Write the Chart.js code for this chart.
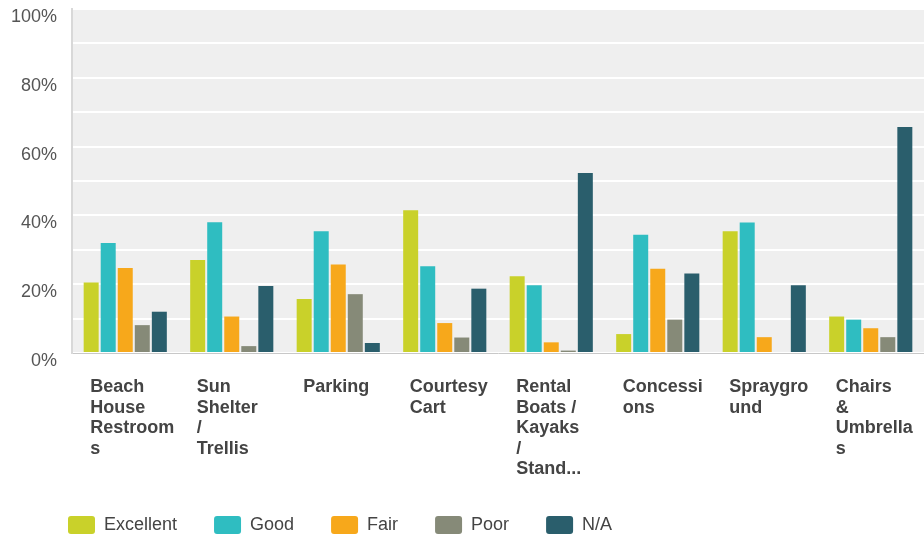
<!DOCTYPE html>
<html>
<head>
<meta charset="utf-8">
<script src="https://cdn.jsdelivr.net/npm/chart.js@4"></script>
<style>
  html, body { margin: 0; padding: 0; background: #ffffff; }
  #c { display: block; }
</style>
</head>
<body>
<canvas id="c" width="924" height="535"></canvas>
<script>
// ---- Data ----
const categories = [
  ["Beach", "House", "Restroom", "s"],
  ["Sun", "Shelter", "/", "Trellis"],
  ["Parking"],
  ["Courtesy", "Cart"],
  ["Rental", "Boats /", "Kayaks", "/", "Stand..."],
  ["Concessi", "ons"],
  ["Spraygro", "und"],
  ["Chairs", "&", "Umbrella", "s"]
];
const seriesNames = ["Excellent", "Good", "Fair", "Poor", "N/A"];
const excellent = [20.5, 27.0, 15.7, 41.5, 22.3, 5.5, 35.4, 10.6];
const good      = [32.0, 38.0, 35.4, 25.2, 19.7, 34.4, 37.9, 9.7];
const fair      = [24.7, 10.6, 25.7, 8.7, 3.1, 24.5, 4.6, 7.2];
const poor      = [8.1, 2.0, 17.1, 4.5, 0.7, 9.7, 0.0, 4.6];
const na        = [12.0, 19.5, 2.9, 18.7, 52.3, 23.1, 19.7, 65.7];
const yTickValues = [0, 20, 40, 60, 80, 100];

const seriesValues = [excellent, good, fair, poor, na];
const seriesColors = ["#c9d12a", "#2fbdc1", "#f7a81b", "#868a78", "#2a5e6c"];
const FONT = "Arial, 'Liberation Sans', sans-serif";

const plotBg = {
  id: 'plotBg',
  beforeDraw(chart) {
    const {ctx, chartArea: a} = chart;
    ctx.save();
    ctx.fillStyle = '#efefef';
    ctx.fillRect(a.left, a.top, a.right - a.left, a.bottom - a.top);
    ctx.restore();
  }
};
const legendPlace = {
  id: 'legendPlace',
  afterLayout(chart) {
    const lg = chart.legend;
    if (!lg) return;
    const pad = lg.options.labels.padding;
    const w = lg.right - lg.left;
    lg.left = 68 - pad; lg.right = lg.left + w;
    const h = lg.bottom - lg.top;
    lg.top = 516 - pad; lg.bottom = lg.top + h;
  }
};

new Chart(document.getElementById('c'), {
  type: 'bar',
  data: {
    labels: categories,
    datasets: seriesNames.map((n, i) => ({
      label: n,
      data: seriesValues[i],
      backgroundColor: seriesColors[i],
      borderWidth: 0,
      categoryPercentage: 0.8,
      barPercentage: 0.88
    }))
  },
  options: {
    responsive: false,
    animation: false,
    layout: { padding: { top: 9, right: -8, left: 0, bottom: -15 } },
    plugins: {
      tooltip: { enabled: false },
      legend: {
        position: 'bottom',
        align: 'start',
        labels: {
          boxWidth: 27, boxHeight: 18, padding: 37,
          useBorderRadius: true, borderRadius: 3,
          color: '#444', font: { family: FONT, size: 18 }
        }
      }
    },
    scales: {
      x: {
        grid: { display: false, drawTicks: false },
        border: { display: true, color: '#c8c8c8', width: 1 },
        ticks: {
          align: 'start', labelOffset: -35, padding: 24, autoSkip: false, maxRotation: 0,
          color: '#444', font: { family: FONT, size: 18, weight: 'bold', lineHeight: 1.14 }
        },
        afterFit(s) { s.paddingLeft = 0; s.paddingRight = 0; s.height = 132; }
      },
      y: {
        min: 0, max: 100,
        grid: { color: '#ffffff', lineWidth: 2, drawTicks: false },
        border: { display: true, color: '#d8d8d8', width: 2 },
        ticks: {
          stepSize: 10, padding: 15, labelOffset: 8,
          color: '#555', font: { family: FONT, size: 18 },
          callback: v => yTickValues.includes(v) ? v + '%' : ''
        },
        afterFit(s) { s.width = 72; s.paddingTop = 0; s.paddingBottom = 0; }
      }
    }
  },
  plugins: [plotBg, legendPlace]
});
</script>
</body>
</html>
